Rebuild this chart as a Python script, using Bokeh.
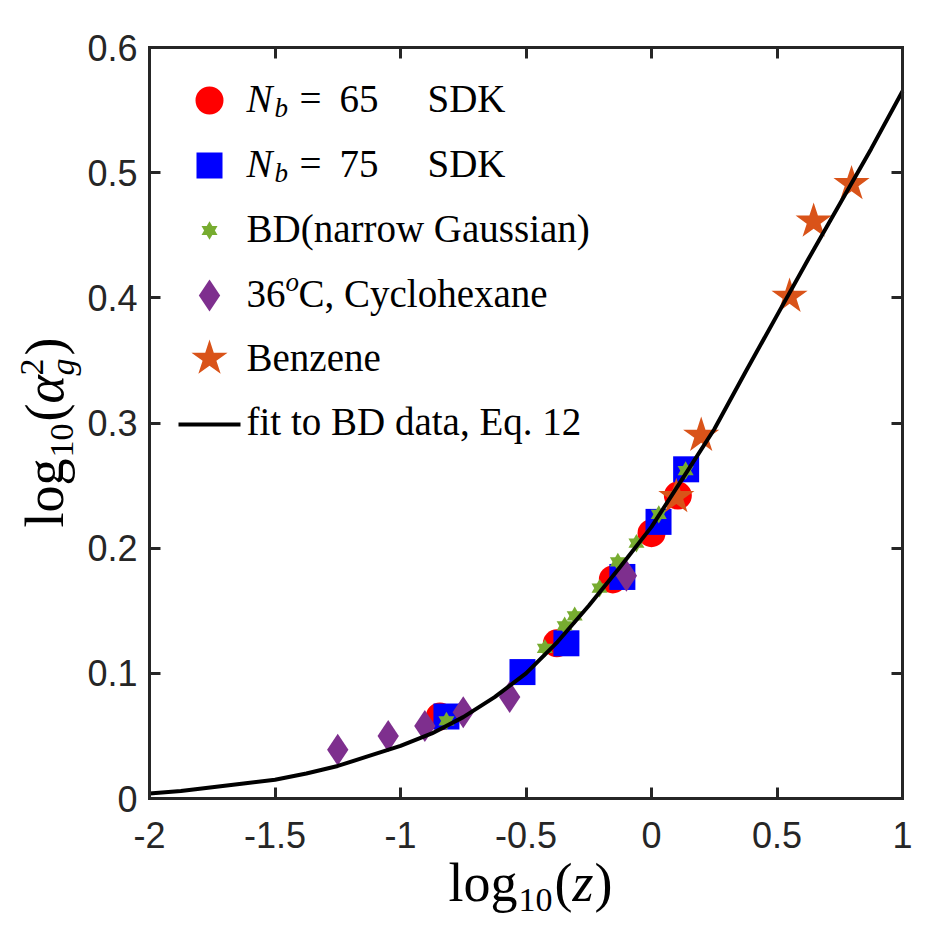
import math

from bokeh.plotting import figure
from bokeh.models import Range1d, LinearAxis, Label, FixedTicker
from bokeh.embed import file_html
from bokeh.resources import INLINE

# ---------------- data ----------------
x_ticks = [-2, -1.5, -1, -0.5, 0, 0.5, 1]
x_tick_labels = ["-2", "-1.5", "-1", "-0.5", "0", "0.5", "1"]
y_ticks = [0, 0.1, 0.2, 0.3, 0.4, 0.5, 0.6]
y_tick_labels = ["0", "0.1", "0.2", "0.3", "0.4", "0.5", "0.6"]
x_lim = (-2, 1)
y_lim = (0, 0.6)

# SDK simulations, N_b = 65
sdk65_x = [-0.843, -0.377, -0.154, 0.000, 0.105]
sdk65_y = [0.0655, 0.124, 0.175, 0.212, 0.242]

# SDK simulations, N_b = 75
sdk75_x = [-0.817, -0.514, -0.339, -0.116, 0.028, 0.138]
sdk75_y = [0.0655, 0.101, 0.124, 0.177, 0.221, 0.263]

# Brownian dynamics, narrow Gaussian potential
bd_x = [-0.817, -0.425, -0.346, -0.306, -0.207, -0.134, -0.060, 0.029, 0.136]
bd_y = [0.062, 0.120, 0.138, 0.146, 0.168, 0.189, 0.204, 0.227, 0.262]

# experiments, 36 C cyclohexane
cyc_x = [-1.250, -1.049, -0.903, -0.750, -0.565, -0.100]
cyc_y = [0.039, 0.050, 0.058, 0.069, 0.081, 0.178]

# experiments, benzene
benz_x = [0.099, 0.198, 0.550, 0.646, 0.797]
benz_y = [0.241, 0.290, 0.401, 0.461, 0.491]

# fitted curve (Eq. 12)
fit_x = [-2.0, -1.875, -1.75, -1.625, -1.5, -1.375, -1.25, -1.125, -1.0,
         -0.875, -0.75, -0.625, -0.5, -0.375, -0.25, -0.125, 0.0,
         0.125, 0.25, 0.375, 0.5, 0.625, 0.75, 0.875, 1.0]
fit_y = [0.004, 0.006, 0.009, 0.012, 0.015, 0.020, 0.026, 0.034, 0.042,
         0.052, 0.065, 0.081, 0.100, 0.125, 0.154, 0.185, 0.217,
         0.256, 0.295, 0.341, 0.386, 0.431, 0.475, 0.519, 0.565]

# ---------------- styling ----------------
RED, BLUE, GREEN, PURPLE, ORANGE = "#FF0000", "#0000FF", "#77AC30", "#7E2F8E", "#D95319"
AXIS_COLOR = "#262626"
SERIF = "Liberation Serif"
SANS = "Liberation Sans"

# canvas size and the pixel box occupied by the axes
W, H = 950, 932
BOX_L, BOX_R, BOX_T, BOX_B = 149, 902, 47, 798

# the frame spans the whole canvas; extend the data ranges so that the
# axes box lands on the pixel box above
sx = (x_lim[1] - x_lim[0]) / (BOX_R - BOX_L)
sy = (y_lim[1] - y_lim[0]) / (BOX_B - BOX_T)
x_range = Range1d(x_lim[0] - BOX_L * sx, x_lim[1] + (W - BOX_R) * sx)
y_range = Range1d(y_lim[0] - (H - BOX_B) * sy, y_lim[1] + BOX_T * sy)

p = figure(width=W, height=H, x_range=x_range, y_range=y_range,
           output_backend="svg", toolbar_location=None,
           min_border=0, x_axis_location=None, y_axis_location=None)
p.outline_line_color = None
p.grid.visible = False
p.background_fill_color = "white"
p.border_fill_color = "white"

# pixel ranges over the canvas, used for the legend and the axis titles
p.extra_x_ranges = {"px": Range1d(0, W)}
p.extra_y_ranges = {"py": Range1d(0, H)}


def make_axis(ticks, labels, show, loc, bounds):
    ax = LinearAxis(fixed_location=loc, bounds=bounds)
    ax.ticker = FixedTicker(ticks=ticks, minor_ticks=[])
    ax.major_label_overrides = dict(zip(ticks, labels))
    ax.axis_line_width = 3
    ax.axis_line_color = AXIS_COLOR
    ax.axis_line_cap = "square"
    ax.major_tick_in = 11
    ax.major_tick_out = 0
    ax.major_tick_line_width = 3
    ax.major_tick_line_color = AXIS_COLOR
    ax.minor_tick_line_color = None
    ax.major_label_text_font = SANS
    if show:
        ax.major_label_text_font_size = "36px"
        ax.major_label_text_color = AXIS_COLOR
    else:
        ax.major_label_text_font_size = "0px"
        ax.major_label_text_color = None
    return ax


xb = make_axis(x_ticks, x_tick_labels, True, y_lim[0], x_lim)
xb.major_label_standoff = 23
yl = make_axis(y_ticks, y_tick_labels, True, x_lim[0], y_lim)
yl.major_label_standoff = 12
p.add_layout(xb, "below")
p.add_layout(yl, "left")
p.add_layout(make_axis(x_ticks, x_tick_labels, False, y_lim[1], x_lim), "above")
p.add_layout(make_axis(y_ticks, y_tick_labels, False, x_lim[1], y_lim), "right")

# ---------------- data marks ----------------
p.scatter(sdk65_x, sdk65_y, marker="circle", size=28, fill_color=RED, line_color=None)
p.scatter(sdk75_x, sdk75_y, marker="square", size=26, fill_color=BLUE, line_color=None)
p.scatter(bd_x, bd_y, marker="triangle", size=16, fill_color=GREEN, line_color=None)
p.scatter(bd_x, bd_y, marker="inverted_triangle", size=16, fill_color=GREEN, line_color=None)
p.scatter(cyc_x, cyc_y, marker="diamond", size=32, fill_color=PURPLE, line_color=None)
p.scatter(benz_x, benz_y, marker="star", size=38, fill_color=ORANGE, line_color=None)
p.line(fit_x, fit_y, line_color="black", line_width=4)


# ---------------- text helpers (canvas pixel positions, y downwards) ----------------
# labels sit about 0.3 em below the requested alphabetic baseline; compensate
BASE_SHIFT = 0.3


def text(cx, cy, s, size, italic=False, angle=0.0):
    if angle:
        cx -= BASE_SHIFT * size
    else:
        cy -= BASE_SHIFT * size
    p.add_layout(Label(x=cx, y=H - cy, x_range_name="px", y_range_name="py",
                       text=s, text_font=SERIF, text_font_size=f"{size}px",
                       text_font_style="italic" if italic else "normal",
                       text_color="black", text_align="left",
                       text_baseline="alphabetic", angle=angle))


def swatch(cx, cy, marker, size, color):
    p.scatter([cx], [H - cy], marker=marker, size=size, fill_color=color,
              line_color=None, x_range_name="px", y_range_name="py")


# ---------------- legend ----------------
LX = 209
TX = 246
FS = 39
SS = 27
rows = [110, 175, 240, 305, 369, 433]

swatch(LX, rows[0] - 10, "circle", 28, RED)
swatch(LX, rows[1] - 10, "square", 26, BLUE)
swatch(LX, rows[2] - 10, "triangle", 16, GREEN)
swatch(LX, rows[2] - 10, "inverted_triangle", 16, GREEN)
swatch(LX, rows[3] - 10, "diamond", 32, PURPLE)
swatch(LX, rows[4] - 11, "star", 38, ORANGE)
p.line([178, 240], [H - (rows[5] - 9)] * 2, line_color="black", line_width=4,
       x_range_name="px", y_range_name="py")

for r, n in ((rows[0], "65"), (rows[1], "75")):
    text(TX, r, "N", FS, italic=True)
    text(TX + 28, r + 6, "b", SS, italic=True)
    text(TX + 53, r, "=", FS)
    text(TX + 93, r, n, FS)
    text(TX + 181, r, "SDK", FS)

text(TX, rows[2], "BD(narrow Gaussian)", FS)
text(TX, rows[3], "36", FS)
text(TX + 39, rows[3] - 15, "o", SS, italic=True)
text(TX + 52, rows[3], "C, Cyclohexane", FS)
text(TX, rows[4], "Benzene", FS)
text(TX, rows[5], "fit to BD data, Eq. 12", FS)

# ---------------- axis titles ----------------
AF = 54
AS = 34
# x title: log10(z)
bx, by = 448, 899
text(bx, by, "log", AF)
text(bx + 70, by + 11, "10", AS)
text(bx + 106, by, "(", AF)
text(bx + 124, by, "z", AF, italic=True)
text(bx + 146, by, ")", AF)

# y title: log10(alpha_g^2), rotated
A = math.pi / 2
yb, y0 = 61, 527
text(yb, y0, "log", AF, angle=A)
text(yb + 11, y0 - 70, "10", AS, angle=A)
text(yb, y0 - 106, "(", AF, angle=A)
text(yb, y0 - 124, "\u03b1", AF, italic=True, angle=A)
text(yb - 19, y0 - 152, "2", AS, angle=A)
text(yb + 11, y0 - 152, "g", AS, italic=True, angle=A)
text(yb, y0 - 172, ")", AF, angle=A)

open("out.html", "w").write(file_html(p, INLINE))
